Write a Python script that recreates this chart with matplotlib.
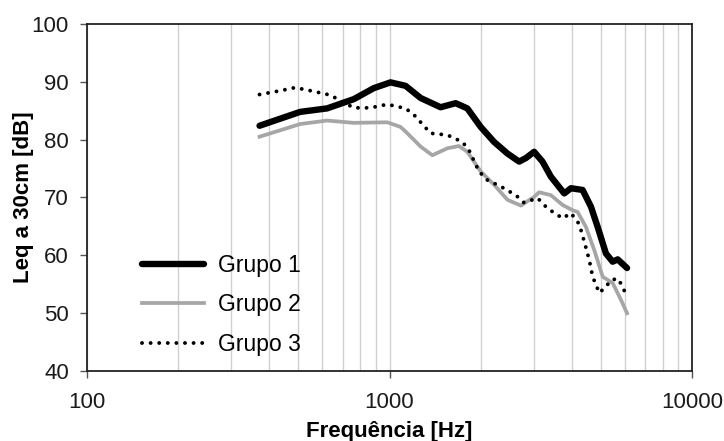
import matplotlib.pyplot as plt
import numpy as np
from matplotlib.ticker import LogLocator, FixedLocator, NullFormatter

plt.rcParams['font.family'] = ['Liberation Sans', 'DejaVu Sans']

# data (frequency in Hz, level in dB)
freq_g1 = [372, 507, 622, 762, 887, 1008, 1130, 1267, 1475, 1654, 1808, 2001, 2216, 2453,
           2681, 2820, 3005, 3203, 3414, 3779, 3977, 4346, 4631, 4873, 5192, 5463, 5675, 6094]
leq_g1 = [82.4, 84.8, 85.4, 87.0, 88.9, 89.9, 89.3, 87.2, 85.6, 86.3, 85.4, 82.2, 79.6, 77.6,
          76.2, 76.8, 77.9, 76.2, 73.6, 70.7, 71.6, 71.3, 68.4, 64.9, 60.3, 58.9, 59.3, 57.8]

freq_g2 = [372, 507, 622, 762, 983, 1087, 1130, 1267, 1385, 1553, 1696, 1808, 2001, 2216, 2453,
           2716, 3005, 3122, 3414, 3733, 4027, 4183, 4457, 4749, 5063, 5463, 5820, 6094]
leq_g2 = [80.5, 82.7, 83.3, 82.9, 83.0, 82.2, 81.4, 78.8, 77.3, 78.5, 78.9, 77.9, 74.5, 72.2, 69.6,
          68.6, 70.1, 70.9, 70.4, 68.7, 67.8, 67.5, 64.9, 60.9, 56.3, 55.2, 52.3, 50.0]

freq_g3 = [372, 430, 488, 555, 638, 679, 762, 865, 983, 1130, 1204, 1367, 1553, 1741, 1830,
           1975, 2107, 2331, 2614, 2784, 3084, 3329, 3733, 3977, 4235, 4400, 4571, 4691, 4933,
           5192, 5393, 5675, 5895, 6048]
leq_g3 = [87.8, 88.4, 89.0, 88.4, 87.7, 86.9, 85.5, 85.5, 86.1, 85.4, 84.3, 81.1, 80.8, 79.6, 78.2,
          74.5, 73.0, 71.9, 70.4, 69.1, 69.9, 68.1, 66.4, 67.3, 65.4, 62.4, 59.2, 56.3, 53.5,
          54.6, 55.7, 56.0, 54.6, 53.1]

labels = ["Grupo 1", "Grupo 2", "Grupo 3"]

fig = plt.figure(figsize=(7.24, 4.41), dpi=100)
ax = fig.add_axes([0.120, 0.1587, 0.836, 0.787])

ax.plot(freq_g1, leq_g1, color='black', lw=4.6, solid_capstyle='round', label=labels[0])
ax.plot(freq_g2, leq_g2, color='#a6a6a6', lw=2.7, label=labels[1])
ax.plot(freq_g3, leq_g3, color='black', lw=2.8, linestyle=(0, (0.01, 2.2)),
        dash_capstyle='round', label=labels[2])

ax.set_xscale('log')
ax.set_xlim(100, 10000)
ax.set_ylim(40, 100)
ax.set_yticks(np.arange(40, 101, 10))
ax.xaxis.set_major_locator(FixedLocator([100, 1000, 10000]))
ax.set_xticklabels(['100', '1000', '10000'])
ax.xaxis.set_minor_locator(LogLocator(base=10, subs=np.arange(2, 10)))
ax.xaxis.set_minor_formatter(NullFormatter())

ax.grid(True, which='both', axis='x', color='#d0d0d0', lw=1)
ax.set_axisbelow(True)
ax.tick_params(axis='both', which='major', labelsize=16, length=5, width=1,
               color='#555555', labelcolor='#1a1a1a')
ax.tick_params(axis='x', which='minor', length=0)
ax.tick_params(axis='x', pad=10)
ax.tick_params(axis='y', pad=8)
for s in ax.spines.values():
    s.set_color('#222222')
    s.set_linewidth(1.3)

ax.set_xlabel('Frequência [Hz]', fontsize=16, fontweight='bold', labelpad=6)
ax.set_ylabel('Leq a 30cm [dB]', fontsize=16, fontweight='bold', labelpad=-2)

ax.legend(loc='lower left', bbox_to_anchor=(0.091, 0.044), frameon=False, fontsize=16.5,
          handlelength=2.7, handletextpad=0.6, labelspacing=0.72, borderpad=0, borderaxespad=0)

fig.savefig('out.png', dpi=100)
